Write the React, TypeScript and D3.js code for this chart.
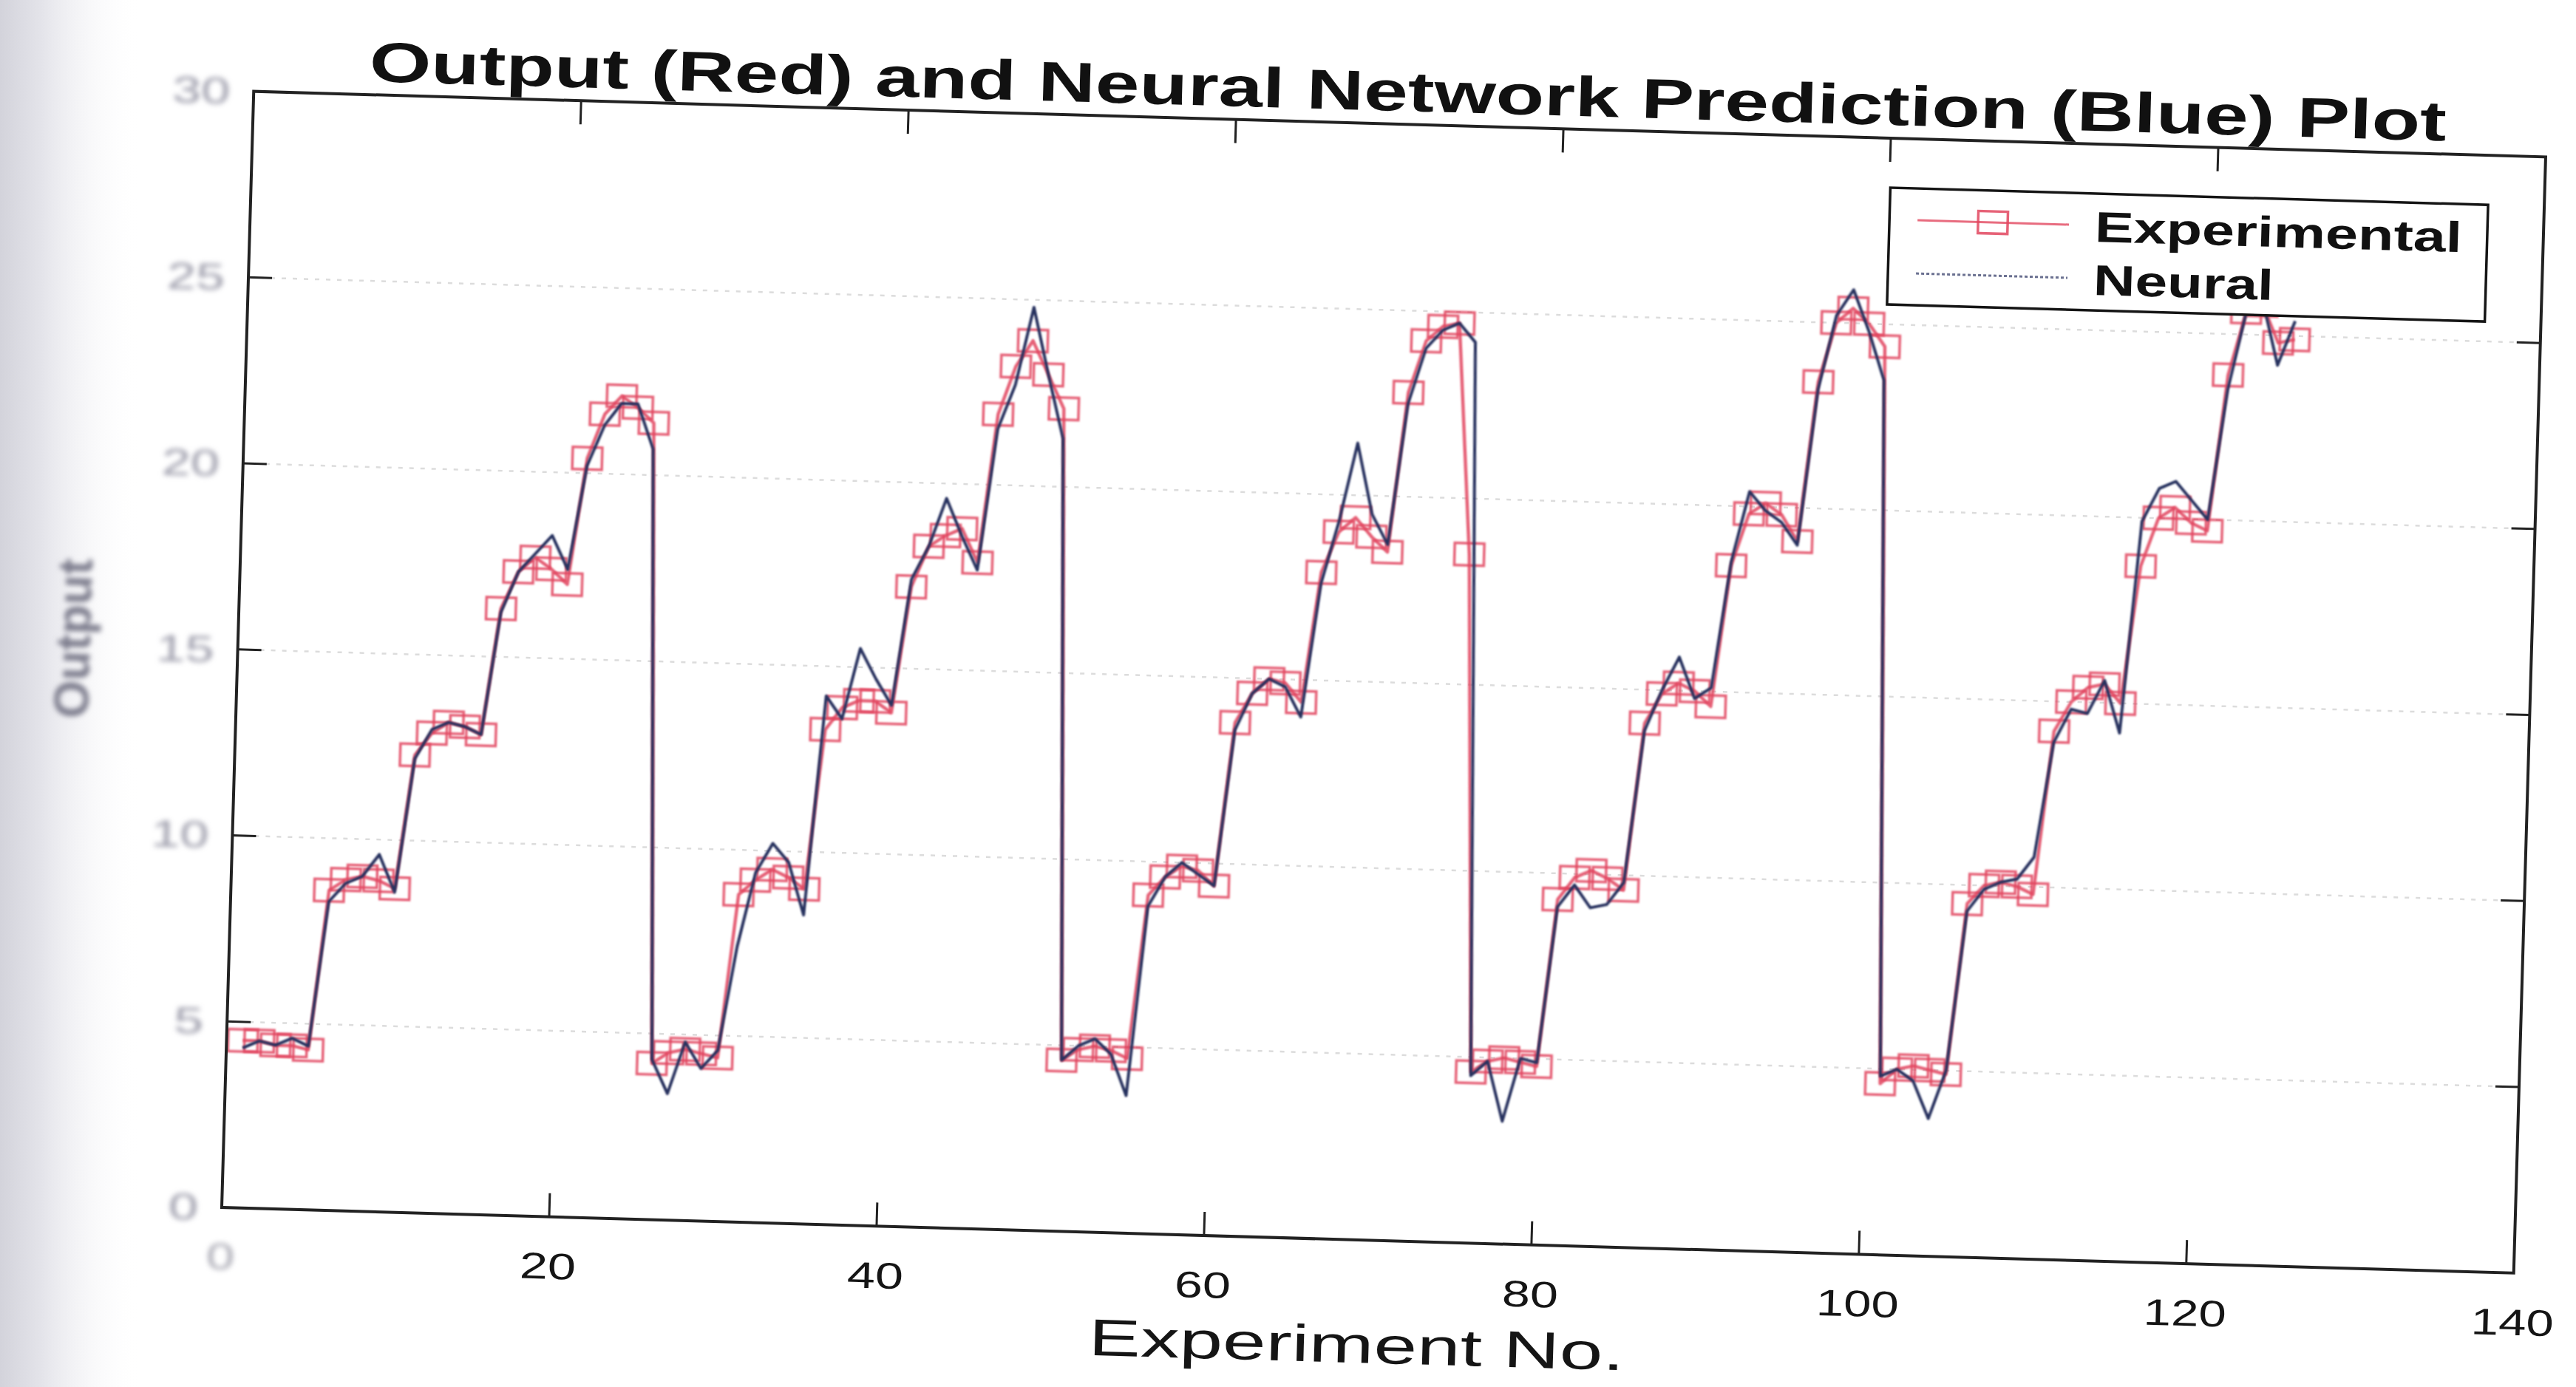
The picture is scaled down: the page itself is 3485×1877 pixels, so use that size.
import React from 'react';
import * as d3 from 'd3';

// ---------- data ----------
const experimentNo = d3.range(1, 126);

const expCycle1 = [4.5, 4.5, 4.4, 4.4, 4.3, 8.6, 8.9, 9.0, 8.9, 8.7, 12.3, 12.9, 13.2, 13.1, 12.9, 16.3, 17.3, 17.7, 17.4, 17.0, 20.4, 21.6, 22.1, 21.8, 21.4];
const expCycle2 = [4.2, 4.5, 4.6, 4.5, 4.4, 8.8, 9.2, 9.5, 9.3, 9.0, 13.3, 13.9, 14.1, 14.1, 13.8, 17.2, 18.3, 18.6, 18.8, 17.9, 21.9, 23.2, 23.9, 23.0, 22.1];
const expCycle3 = [4.6, 4.9, 5.0, 4.9, 4.7, 9.1, 9.6, 9.9, 9.8, 9.4, 13.8, 14.6, 15.0, 14.9, 14.4, 17.9, 19.0, 19.4, 18.9, 18.5, 22.8, 24.2, 24.6, 24.7, 18.5];
const expCycle4 = [4.6, 4.9, 5.0, 4.9, 4.8, 9.3, 9.9, 10.1, 9.9, 9.6, 14.1, 14.9, 15.2, 15.0, 14.6, 18.4, 19.8, 20.1, 19.8, 19.1, 23.4, 25.0, 25.4, 25.0, 24.4];
const expCycle5 = [4.6, 5.0, 5.1, 5.0, 4.9, 9.5, 10.0, 10.1, 10.0, 9.8, 14.2, 15.0, 15.4, 15.5, 15.0, 18.7, 20.0, 20.3, 19.9, 19.7, 23.9, 25.6, 25.8, 24.8, 24.9];

const nnCycle1 = [4.3, 4.5, 4.4, 4.6, 4.4, 8.3, 8.8, 9.0, 9.6, 8.6, 12.2, 13.0, 13.2, 13.1, 12.9, 16.2, 17.3, 17.8, 18.3, 17.4, 20.2, 21.3, 21.9, 21.9, 20.7];
const nnCycle2 = [4.3, 3.4, 4.8, 4.1, 4.6, 7.4, 9.4, 10.2, 9.7, 8.3, 14.2, 13.6, 15.5, 14.7, 14.0, 17.4, 18.3, 19.6, 18.6, 17.7, 21.5, 22.7, 24.8, 23.0, 21.3];
const nnCycle3 = [4.6, 5.0, 5.2, 4.8, 3.7, 8.8, 9.6, 10.0, 9.7, 9.4, 13.6, 14.6, 15.0, 14.8, 14.0, 17.6, 19.3, 21.4, 19.5, 18.7, 22.5, 24.0, 24.5, 24.7, 24.2];
const nnCycle4 = [4.5, 4.9, 3.3, 5.0, 4.9, 9.1, 9.7, 9.1, 9.2, 9.8, 13.9, 15.0, 15.9, 14.8, 15.1, 18.5, 20.4, 19.9, 19.6, 19.0, 23.2, 25.2, 25.9, 24.8, 23.5];
const nnCycle5 = [4.8, 5.0, 4.7, 3.7, 5.0, 9.3, 9.9, 10.1, 10.2, 10.8, 13.9, 14.8, 14.7, 15.6, 14.2, 19.9, 20.8, 21.0, 20.5, 20.0, 23.5, 25.6, 25.9, 24.2, 25.4];

const xTicks = [0, 20, 40, 60, 80, 100, 120, 140];
const yTicks = [0, 5, 10, 15, 20, 25, 30];

const titleText = 'Output (Red) and Neural Network Prediction (Blue) Plot';
const xLabelText = 'Experiment No.';
const yLabelText = 'Output';
const legendLabels = ['Experimental', 'Neural'];

// ---------- layout ----------
const W = 3485, H = 1877;
const L = 300, T = 123, R = 3402, B = 1634;
const ANGLE = 1.64; // scanned page is slightly rotated
const FONT = 'Liberation Sans, Arial, Helvetica, sans-serif';
const RED = '#e2475f';
const BLUE = '#27305e';

function SText(props: any) {
  const { x, y, w, size, weight = 'normal', fill = '#111', anchor = 'middle', filter, children } = props;
  const x0 = anchor === 'middle' ? x - w / 2 : anchor === 'end' ? x - w : x;
  return (
    <text x={x0} y={y} textLength={w} lengthAdjust="spacingAndGlyphs" fontSize={size}
      fontWeight={weight} fill={fill} fontFamily={FONT} filter={filter}>{children}</text>
  );
}

export default function App() {
  const x = d3.scaleLinear().domain([0, 140]).range([L, R]);
  const y = d3.scaleLinear().domain([0, 30]).range([B, T]);

  const experimental = [...expCycle1, ...expCycle2, ...expCycle3, ...expCycle4, ...expCycle5];
  const neural = [...nnCycle1, ...nnCycle2, ...nnCycle3, ...nnCycle4, ...nnCycle5];

  const line = d3.line<number>().x((_, i) => x(experimentNo[i])).y((d) => y(d));

  const mw = 40, mh = 30; // square marker (scan is stretched horizontally)
  const tickLen = 32;

  const lg = { x: 2517, y: 190, w: 809, h: 158 };
  const row1 = lg.y + 43, row2 = lg.y + 115;

  return (
    <svg width={W} height={H} viewBox={`0 0 ${W} ${H}`}
      style={{ position: 'absolute', left: 0, top: 0, display: 'block', background: '#fff' }}>
      <defs>
        <linearGradient id="shadow" x1="0" x2="1" y1="0" y2="0">
          <stop offset="0" stopColor="#d3d3db" />
          <stop offset="0.3" stopColor="#e4e4ea" />
          <stop offset="1" stopColor="#ffffff" stopOpacity="0" />
        </linearGradient>
        <filter id="soft" x="-20%" y="-20%" width="140%" height="140%">
          <feGaussianBlur stdDeviation="3.5" />
        </filter>
        <filter id="soft2" x="-20%" y="-20%" width="140%" height="140%">
          <feGaussianBlur stdDeviation="1.2" />
        </filter>
        <clipPath id="plotClip">
          <rect x={L} y={T} width={R - L} height={B - T} />
        </clipPath>
      </defs>
      <rect x={0} y={0} width={W} height={H} fill="#fff" />
      <rect x={0} y={0} width={190} height={H} fill="url(#shadow)" />

      <g transform={`rotate(${ANGLE}, ${L}, ${B})`}>
        {/* grid */}
        {yTicks.slice(1, -1).map((t) => (
          <line key={'g' + t} x1={L} x2={R} y1={y(t)} y2={y(t)} stroke="#dcdcdc"
            strokeWidth={2.5} strokeDasharray="6 9" />
        ))}

        {/* series */}
        <g clipPath="url(#plotClip)">
          <path d={line(experimental) || ''} fill="none" stroke={RED} strokeOpacity={0.85}
            strokeWidth={4.5} strokeLinejoin="round" filter="url(#soft2)" />
          {experimental.map((v, i) => (
            <rect key={'m' + i} x={x(experimentNo[i]) - mw / 2} y={y(v) - mh / 2} width={mw} height={mh}
              fill="none" stroke={RED} strokeOpacity={0.85} strokeWidth={3.5} filter="url(#soft2)" />
          ))}
          <path d={line(neural) || ''} fill="none" stroke={BLUE} strokeWidth={4}
            strokeLinejoin="round" filter="url(#soft2)" />
        </g>

        {/* frame */}
        <rect x={L} y={T} width={R - L} height={B - T} fill="none" stroke="#222" strokeWidth={4} />

        {/* ticks */}
        {xTicks.slice(1, -1).map((t) => (
          <g key={'xt' + t}>
            <line x1={x(t)} x2={x(t)} y1={B} y2={B - tickLen} stroke="#222" strokeWidth={3} />
            <line x1={x(t)} x2={x(t)} y1={T} y2={T + tickLen} stroke="#222" strokeWidth={3} />
          </g>
        ))}
        {yTicks.slice(1, -1).map((t) => (
          <g key={'yt' + t}>
            <line x1={L} x2={L + tickLen} y1={y(t)} y2={y(t)} stroke="#222" strokeWidth={3} />
            <line x1={R} x2={R - tickLen} y1={y(t)} y2={y(t)} stroke="#222" strokeWidth={3} />
          </g>
        ))}

        {/* x tick labels */}
        {xTicks.map((t) => (
          <SText key={'xl' + t} x={x(t)} y={B + 84} w={String(t).length === 1 ? 38 : String(t).length === 2 ? 76 : 112}
            size={50} fill={t === 0 ? '#a8a8b2' : '#151515'} filter={t === 0 ? 'url(#soft)' : undefined}>
            {String(t)}
          </SText>
        ))}

        {/* y tick labels (faded in the scan) */}
        {yTicks.map((t) => (
          <SText key={'yl' + t} x={268} y={y(t) + 18} w={String(t).length === 1 ? 40 : 78} anchor="end"
            size={50} fill="#9a9aa8" filter="url(#soft)">{String(t)}</SText>
        ))}

        {/* axis labels */}
        <SText x={1840} y={1800} w={725} size={70} fill="#151515">{xLabelText}</SText>
        <g transform={`translate(100, 870) rotate(-90)`}>
          <text x={0} y={0} textAnchor="middle" fontSize={66} fontFamily={FONT} fill="#7c7c8c"
            filter="url(#soft)" fontWeight="bold">{yLabelText}</text>
        </g>

        {/* title */}
        <SText x={1861} y={105} w={2811} size={76} weight="bold" fill="#111">{titleText}</SText>

        {/* legend */}
        <rect x={lg.x} y={lg.y} width={lg.w} height={lg.h} fill="#fff" stroke="#151515" strokeWidth={3.5} />
        <line x1={lg.x + 38} x2={lg.x + 243} y1={row1} y2={row1} stroke={RED} strokeOpacity={0.8} strokeWidth={3} />
        <rect x={lg.x + 140 - mw / 2} y={row1 - mh / 2} width={mw} height={mh} fill="none" stroke={RED}
          strokeOpacity={0.85} strokeWidth={3.5} />
        <line x1={lg.x + 38} x2={lg.x + 243} y1={row2} y2={row2} stroke="#6a7090" strokeWidth={3}
          strokeDasharray="4 3" />
        <SText x={lg.x + 278} y={row1 + 22} w={497} size={58} weight="bold" anchor="start">{legendLabels[0]}</SText>
        <SText x={lg.x + 278} y={row2 + 22} w={244} size={58} weight="bold" anchor="start">{legendLabels[1]}</SText>
      </g>
    </svg>
  );
}
